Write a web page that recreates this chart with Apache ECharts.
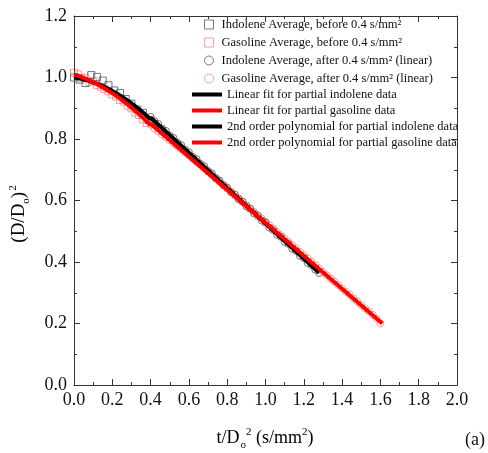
<!DOCTYPE html>
<html>
<head>
<meta charset="utf-8">
<script src="https://cdn.jsdelivr.net/npm/echarts@6/dist/echarts.min.js"></script>
<style>html,body{margin:0;padding:0;background:#fff}#c{width:488px;height:453px}</style>
</head>
<body>
<div id="c"></div>
<script>
// ---- data ----
const seriesNames = [
  'Indolene Average, before 0.4 s/mm²',
  'Gasoline Average, before 0.4 s/mm²',
  'Indolene Average, after 0.4 s/mm² (linear)',
  'Gasoline Average, after 0.4 s/mm² (linear)',
  'Linear fit for partial indolene data',
  'Linear fit for partial gasoline data',
  '2nd order polynomial for partial indolene data',
  '2nd order polynomial for partial gasoline data'
];
const xTicks = ['0.0','0.2','0.4','0.6','0.8','1.0','1.2','1.4','1.6','1.8','2.0'];
const yTicks = ['0.0','0.2','0.4','0.6','0.8','1.0','1.2'];

const indSqX = [0.00,0.03,0.06,0.09,0.12,0.15,0.18,0.21,0.24,0.27,0.30,0.33,0.36,0.39];
const indSqY = [1.000,0.993,0.982,1.008,1.002,0.990,0.975,0.958,0.950,0.930,0.915,0.896,0.885,0.862];

const gasSqX = [0.00,0.02,0.04,0.06,0.08,0.10,0.12,0.14,0.16,0.18,0.20,0.22,0.24,0.26,0.28,0.30,0.32,0.34,0.36,0.38];
const gasSqY = [1.015,1.010,0.998,0.999,0.986,0.988,0.975,0.970,0.962,0.955,0.945,0.938,0.927,0.921,0.908,0.900,0.886,0.878,0.864,0.852];

const indCiX = [0.40,0.42,0.44,0.46,0.48,0.50,0.52,0.54,0.56,0.58,0.60,0.62,0.64,0.66,0.68,0.70,0.72,0.74,0.76,0.78,0.80,0.82,0.84,0.86,0.88,0.90,0.92,0.94,0.96,0.98,1.00,1.02,1.04,1.06,1.08,1.10,1.12,1.14,1.16,1.18,1.20,1.22,1.24,1.26,1.28];
const indCiY = [0.872,0.858,0.849,0.834,0.826,0.811,0.803,0.788,0.780,0.765,0.757,0.742,0.734,0.719,0.711,0.696,0.688,0.673,0.665,0.650,0.642,0.627,0.619,0.604,0.596,0.581,0.573,0.558,0.550,0.535,0.528,0.512,0.504,0.489,0.482,0.466,0.459,0.443,0.436,0.420,0.413,0.397,0.390,0.375,0.364];

const gasCiX = [0.40,0.42,0.44,0.46,0.48,0.50,0.52,0.54,0.56,0.58,0.60,0.62,0.64,0.66,0.68,0.70,0.72,0.74,0.76,0.78,0.80,0.82,0.84,0.86,0.88,0.90,0.92,0.94,0.96,0.98,1.00,1.02,1.04,1.06,1.08,1.10,1.12,1.14,1.16,1.18,1.20,1.22,1.24,1.26,1.28,1.30,1.32,1.34,1.36,1.38,1.40,1.42,1.44,1.46,1.48,1.50,1.52,1.54,1.56,1.58,1.60];
const gasCiY = [0.846,0.834,0.825,0.815,0.805,0.796,0.786,0.777,0.767,0.757,0.747,0.737,0.726,0.716,0.705,0.694,0.683,0.672,0.661,0.650,0.639,0.628,0.618,0.607,0.596,0.585,0.574,0.563,0.552,0.542,0.531,0.520,0.509,0.498,0.487,0.476,0.465,0.455,0.444,0.433,0.422,0.412,0.401,0.390,0.379,0.368,0.357,0.347,0.336,0.325,0.314,0.303,0.293,0.282,0.271,0.260,0.249,0.239,0.228,0.216,0.200];

const indLinX = [0.40,1.28];
const indLinY = [0.870,0.365];
const gasLinX = [0.40,1.61];
const gasLinY = [0.850,0.200];

const polyX = [0.00,0.05,0.10,0.15,0.20,0.25,0.30,0.35,0.40];
const indPolyY = [1.000,0.994,0.984,0.972,0.956,0.938,0.916,0.892,0.864];
const gasPolyY = [1.010,0.999,0.985,0.968,0.949,0.927,0.902,0.875,0.845];

// ---- chart ----
const pairs = (xs, ys) => xs.map((x, i) => [x, ys[i]]);
const FONT = '"Liberation Serif","Times New Roman",serif';
const GRAY = '#555';
const PINK = 'rgba(255,40,40,0.55)';

const chart = echarts.init(document.getElementById('c'), null, {renderer: 'canvas'});

function axisCommon(extra) {
  return Object.assign({
    type: 'value',
    splitLine: {show: false},
    axisLine: {show: true, onZero: false, lineStyle: {color: '#333', width: 1}},
    axisTick: {show: true, inside: true, length: 6, lineStyle: {color: '#333'}},
    minorTick: {show: true, splitNumber: 2, length: 3, lineStyle: {color: '#333'}},
    minorSplitLine: {show: false}
  }, extra);
}

const scatterBase = (name, xs, ys, symbol, color) => ({
  name, type: 'scatter', xAxisIndex: 0, yAxisIndex: 0,
  data: pairs(xs, ys), symbol, symbolSize: 7,
  itemStyle: {color: 'transparent', borderColor: color, borderWidth: 1},
  emphasis: {disabled: true}
});
const lineBase = (name, xs, ys, color, smooth) => ({
  name, type: 'line', xAxisIndex: 0, yAxisIndex: 0,
  data: pairs(xs, ys), symbol: 'none', smooth: smooth,
  lineStyle: {color, width: 4}, itemStyle: {color},
  emphasis: {disabled: true}
});

const legendText = {fontFamily: FONT, fontSize: 12.5, color: '#111', padding: [0, 0, 0, 3]};

chart.setOption({
  animation: false,
  backgroundColor: '#fff',
  grid: {left: 74, right: 31, top: 16, bottom: 68},
  xAxis: [
    axisCommon({min: 0, max: 2, interval: 0.2, position: 'bottom',
      axisLabel: {fontFamily: FONT, fontSize: 18, color: '#111', margin: 6,
        formatter: v => xTicks[Math.round(v / 0.2)]}}),
    axisCommon({min: 0, max: 2, interval: 0.2, position: 'top', axisLabel: {show: false}})
  ],
  yAxis: [
    axisCommon({min: 0, max: 1.2, interval: 0.2, position: 'left',
      axisLabel: {fontFamily: FONT, fontSize: 18, color: '#111', margin: 7,
        formatter: v => yTicks[Math.round(v / 0.2)]}}),
    axisCommon({min: 0, max: 1.2, interval: 0.2, position: 'right', axisLabel: {show: false}})
  ],
  legend: [
    {
      orient: 'vertical', left: 204, top: 18, padding: 0, itemWidth: 9, itemHeight: 9, itemGap: 5,
      textStyle: legendText, selectedMode: false,
      data: [
        {name: seriesNames[0], icon: 'rect', itemStyle: {color: 'transparent', borderColor: GRAY, borderWidth: 1}},
        {name: seriesNames[1], icon: 'rect', itemStyle: {color: 'transparent', borderColor: PINK, borderWidth: 1}},
        {name: seriesNames[2], icon: 'circle', itemStyle: {color: 'transparent', borderColor: GRAY, borderWidth: 1}},
        {name: seriesNames[3], icon: 'circle', itemStyle: {color: 'transparent', borderColor: PINK, borderWidth: 1}}
      ]
    },
    {
      orient: 'vertical', left: 192, top: 88, padding: 0, itemWidth: 30, itemHeight: 4, itemGap: 3,
      textStyle: {fontFamily: FONT, fontSize: 12.5, color: '#111'}, selectedMode: false,
      data: [
        {name: seriesNames[4], icon: 'rect', itemStyle: {color: '#000'}},
        {name: seriesNames[5], icon: 'rect', itemStyle: {color: '#f00'}},
        {name: seriesNames[6], icon: 'rect', itemStyle: {color: '#000'}},
        {name: seriesNames[7], icon: 'rect', itemStyle: {color: '#f00'}}
      ]
    }
  ],
  graphic: [
    {
      type: 'text', x: 265, y: 438,
      style: {
        text: '{n|t/D}{sub|o}{sup|2}{n| (s/mm}{sup|2}{n|)}',
        align: 'center', verticalAlign: 'middle',
        rich: {
          n: {fontFamily: FONT, fontSize: 18, color: '#111', lineHeight: 30, verticalAlign: 'middle'},
          sub: {fontFamily: FONT, fontSize: 11, color: '#111', lineHeight: 30, verticalAlign: 'bottom', padding: [0, 0, 2, 1]},
          sup: {fontFamily: FONT, fontSize: 11, color: '#111', lineHeight: 30, verticalAlign: 'top', padding: [4, 0, 0, 0]}
        }
      }
    },
    {
      type: 'text', x: 475, y: 440,
      style: {text: '(a)', align: 'center', verticalAlign: 'middle', fontFamily: FONT, fontSize: 18, fill: '#111'}
    },
    {
      type: 'text', x: 19, y: 214, rotation: Math.PI / 2,
      style: {
        text: '{n|(D/D}{sub|o}{n|)}{sup|2}',
        align: 'center', verticalAlign: 'middle',
        rich: {
          n: {fontFamily: FONT, fontSize: 19, color: '#111', lineHeight: 30, verticalAlign: 'middle'},
          sub: {fontFamily: FONT, fontSize: 11, color: '#111', lineHeight: 30, verticalAlign: 'bottom', padding: [0, 0, 2, 0]},
          sup: {fontFamily: FONT, fontSize: 11, color: '#111', lineHeight: 30, verticalAlign: 'top', padding: [4, 0, 0, 1]}
        }
      }
    }
  ],
  series: [
    scatterBase(seriesNames[0], indSqX, indSqY, 'rect', GRAY),
    scatterBase(seriesNames[1], gasSqX, gasSqY, 'rect', PINK),
    scatterBase(seriesNames[2], indCiX, indCiY, 'circle', GRAY),
    scatterBase(seriesNames[3], gasCiX, gasCiY, 'circle', PINK),
    lineBase(seriesNames[4], indLinX, indLinY, '#000', false),
    lineBase(seriesNames[5], gasLinX, gasLinY, '#f00', false),
    lineBase(seriesNames[6], polyX, indPolyY, '#000', true),
    lineBase(seriesNames[7], polyX, gasPolyY, '#f00', true)
  ]
});
</script>
</body>
</html>
